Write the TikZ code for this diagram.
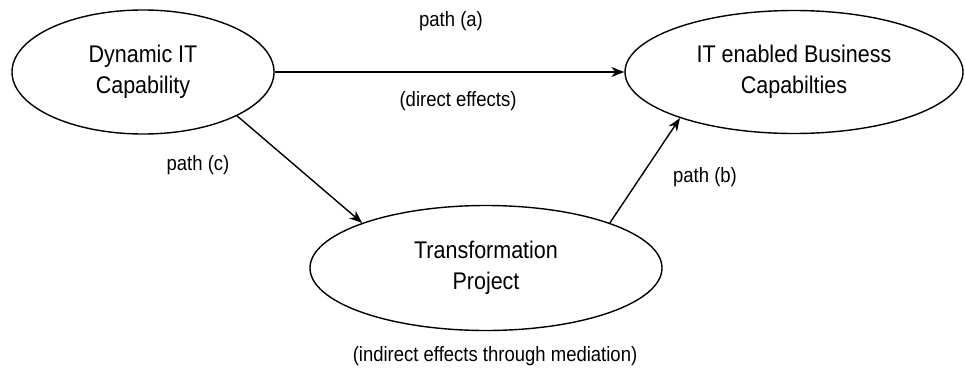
\documentclass[tikz,border=0pt]{standalone}
\usepackage{fontspec}
\usepackage{graphicx}
\setmainfont{Liberation Sans}
\usetikzlibrary{shapes.geometric,arrows.meta}
% slightly tall lettering, one or more centred lines
\newcommand{\tallstack}[1]{\scalebox{1}[1.12]{\begin{tabular}{@{}c@{}}#1\end{tabular}}}
\begin{document}
\begin{tikzpicture}[x=1pt,y=-1pt,
  construct/.style={draw, ellipse, line width=1.4pt, inner sep=0pt,
    font=\fontsize{21.5}{26.8}\selectfont},
  link/.style={line width=1.4pt, -{Stealth[length=13pt,width=10pt]}},
  note/.style={font=\fontsize{18.5}{22}\selectfont, inner sep=0pt}]
  \useasboundingbox (0,0) rectangle (965,372);

  % the three constructs
  \node[construct, minimum width=262pt, minimum height=124pt] (dyn) at (143,72)
    {\tallstack{Dynamic IT\\Capability}};
  \node[construct, minimum width=338pt, minimum height=123pt] (biz) at (794,72)
    {\tallstack{IT enabled Business\\Capabilties}};
  \node[construct, minimum width=352pt, minimum height=125pt] (trans) at (486,268)
    {\tallstack{Transformation\\Project}};

  % causal paths
  \draw[link] (dyn.east) -- (biz.west);
  \draw[link] (dyn.-25) -- (trans.160);
  \draw[link] (trans.20) -- (biz.-158);

  % path labels
  \node[note] (la) at (451,22) {\tallstack{path (a)}};
  \node[note] (ld) at (458,102) {\tallstack{(direct effects)}};
  \node[note] (lc) at (198,166) {\tallstack{path (c)}};
  \node[note] (lb) at (705,178) {\tallstack{path (b)}};
  \node[note] (li) at (495,357) {\tallstack{(indirect effects through mediation)}};
\end{tikzpicture}
\end{document}
